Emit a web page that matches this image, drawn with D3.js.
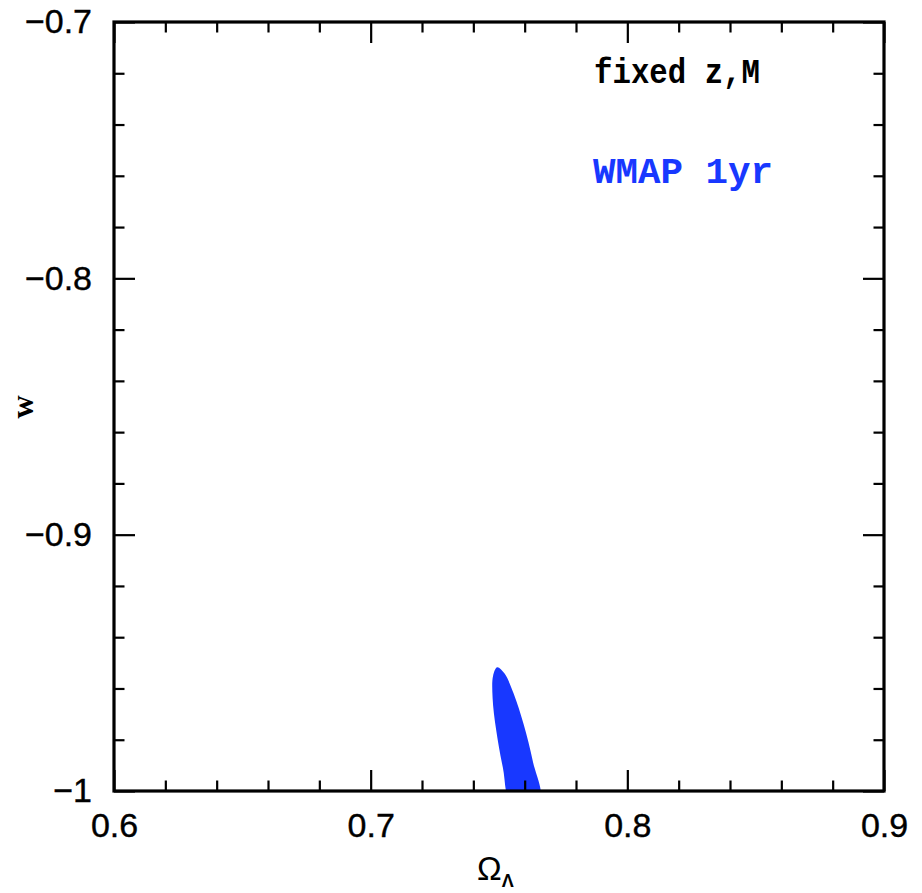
<!DOCTYPE html>
<html><head><meta charset="utf-8">
<script src="https://cdn.jsdelivr.net/npm/d3@7"></script>
<style>body{margin:0;background:#fff}svg{display:block}</style>
</head><body>
<script>
// Data
const xDomain = [0.6, 0.9];
const yDomain = [-1.0, -0.7];
const xMajorTicks = [0.6, 0.7, 0.8, 0.9];
const xTickLabels = ["0.6", "0.7", "0.8", "0.9"];
const xMinorTicks = [0.62,0.64,0.66,0.68,0.72,0.74,0.76,0.78,0.82,0.84,0.86,0.88];
const yMajorTicks = [-1.0, -0.9, -0.8, -0.7];
const yTickLabels = ["\u22121", "\u22120.9", "\u22120.8", "\u22120.7"];
const yMinorTicks = [-0.98,-0.96,-0.94,-0.92,-0.88,-0.86,-0.84,-0.82,-0.78,-0.76,-0.74,-0.72];
// WMAP 1yr contour boundary (Omega_Lambda, w)
const contourX = [0.7658,0.7632,0.7596,0.7557,0.7521,0.7493,0.7477,0.7475,0.7489,0.7515,0.7550];
const contourY = [-1.0031,-0.9885,-0.9740,-0.9620,-0.9541,-0.9517,-0.9550,-0.9636,-0.9762,-0.9908,-1.0053];
const labels = ["fixed z,M", "WMAP 1yr"];

const W = 922, H = 893;
const m = {left:114, top:22, right:884, bottom:791};
const x = d3.scaleLinear().domain(xDomain).range([m.left, m.right]);
const y = d3.scaleLinear().domain(yDomain).range([m.bottom, m.top]);

const svg = d3.select("body").append("svg").attr("width", W).attr("height", H);
svg.append("defs").append("clipPath").attr("id","clip")
  .append("rect").attr("x", m.left).attr("y", m.top)
  .attr("width", m.right-m.left).attr("height", m.bottom-m.top);

const blue = "#1838ff";
const pts = contourX.map((v,i)=>[x(v), y(contourY[i])]);
svg.append("path").attr("clip-path","url(#clip)")
  .attr("d", d3.line().curve(d3.curveCatmullRomClosed.alpha(0.5))(pts))
  .attr("fill", blue).attr("stroke","none");

const MAJ = 21, MIN = 10.5;
function ax(axisFn, scale, ticks, size, transform, fmt){
  const a = axisFn(scale).tickValues(ticks).tickSizeInner(size).tickSizeOuter(0).tickPadding(10);
  if (fmt) a.tickFormat(fmt); else a.tickFormat("");
  const g = svg.append("g").attr("transform", transform).call(a);
  g.select(".domain").remove();
  g.selectAll(".tick line").attr("stroke","#000").attr("stroke-width",2.2);
  return g;
}
// bottom
const gb = ax(d3.axisBottom, x, xMajorTicks, -MAJ, `translate(0,${m.bottom})`, (d,i)=>xTickLabels[i]);
gb.selectAll(".tick text").attr("font-family","Liberation Sans, Arial, sans-serif").attr("font-size",34)
  .attr("fill","#000").attr("stroke","#000").attr("stroke-width",0.4).attr("dy",null).attr("y",46);
ax(d3.axisBottom, x, xMinorTicks, -MIN, `translate(0,${m.bottom})`);
// top
ax(d3.axisTop, x, xMajorTicks, -MAJ, `translate(0,${m.top})`);
ax(d3.axisTop, x, xMinorTicks, -MIN, `translate(0,${m.top})`);
// left
const gl = ax(d3.axisLeft, y, yMajorTicks, -MAJ, `translate(${m.left},0)`, (d,i)=>yTickLabels[i]);
gl.selectAll(".tick text").attr("font-family","Liberation Sans, Arial, sans-serif").attr("font-size",34)
  .attr("fill","#000").attr("stroke","#000").attr("stroke-width",0.4).attr("x",-22);
ax(d3.axisLeft, y, yMinorTicks, -MIN, `translate(${m.left},0)`);
// right
ax(d3.axisRight, y, yMajorTicks, -MAJ, `translate(${m.right},0)`);
ax(d3.axisRight, y, yMinorTicks, -MIN, `translate(${m.right},0)`);

// frame
svg.append("rect").attr("x", m.left).attr("y", m.top)
  .attr("width", m.right-m.left).attr("height", m.bottom-m.top)
  .attr("fill","none").attr("stroke","#000").attr("stroke-width",3.2);

// annotations
svg.append("text").attr("x", 594).attr("y", 83).text(labels[0])
  .attr("font-family","Liberation Mono, Courier New, monospace").attr("font-weight","bold")
  .attr("font-size",35).attr("textLength",166).attr("lengthAdjust","spacingAndGlyphs").attr("fill","#000");
svg.append("text").attr("x", 593).attr("y", 183).text(labels[1])
  .attr("font-family","Liberation Mono, Courier New, monospace").attr("font-weight","bold")
  .attr("font-size",36).attr("textLength",180).attr("lengthAdjust","spacingAndGlyphs").attr("fill",blue);

// axis titles
svg.append("text").attr("transform","translate(33,407) rotate(-90)").attr("text-anchor","middle")
  .attr("font-family","Liberation Serif, Times New Roman, serif").attr("font-weight","bold")
  .attr("font-size",32).attr("fill","#000").text("w");
const xt = svg.append("text").attr("x", 477).attr("y", 880)
  .attr("font-family","Liberation Sans, Arial, sans-serif").attr("font-size",33).attr("fill","#000");
xt.append("tspan").text("\u03A9");
xt.append("tspan").attr("font-size",18).attr("dy",7).attr("font-weight","bold").text("\u039B");
</script>
</body></html>
